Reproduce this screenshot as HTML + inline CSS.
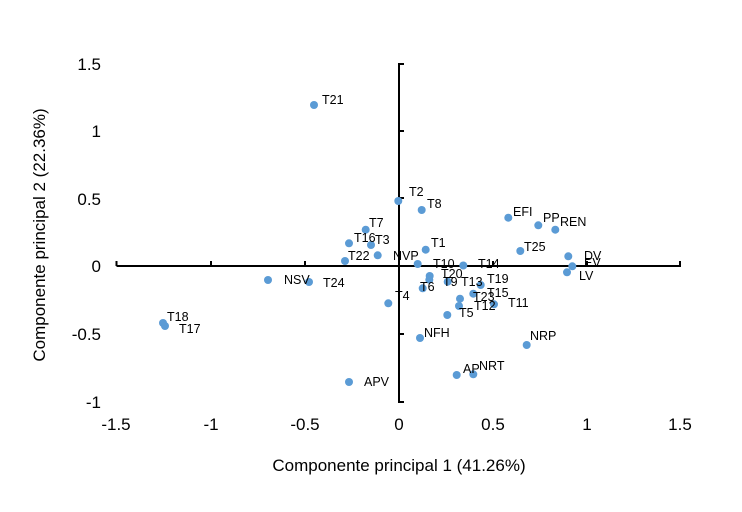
<!DOCTYPE html>
<html><head><meta charset="utf-8"><style>
html,body{margin:0;padding:0;background:#fff;}
svg{display:block;font-family:"Liberation Sans",Arial,sans-serif;}
.t{font-size:17px;fill:#000;}
.l{font-size:12.5px;fill:#000;dominant-baseline:central;}
</style></head><body>
<svg width="742" height="512" viewBox="0 0 742 512">
<rect width="742" height="512" fill="#fff"/>
<g stroke="#000" stroke-width="2" fill="none">
<line x1="116.5" y1="266" x2="681" y2="266"/>
<line x1="399" y1="63" x2="399" y2="403"/>
<line x1="116.5" y1="266" x2="116.5" y2="261"/>
<line x1="211" y1="266" x2="211" y2="261"/>
<line x1="305" y1="266" x2="305" y2="261"/>
<line x1="493" y1="266" x2="493" y2="261"/>
<line x1="587" y1="266" x2="587" y2="261"/>
<line x1="680" y1="266" x2="680" y2="261"/>
<line x1="399" y1="64" x2="404" y2="64"/>
<line x1="399" y1="131" x2="404" y2="131"/>
<line x1="399" y1="198" x2="404" y2="198"/>
<line x1="399" y1="334" x2="404" y2="334"/>
<line x1="399" y1="402" x2="404" y2="402"/>
</g>
<g class="t" text-anchor="middle">
<text x="116" y="430">-1.5</text>
<text x="211" y="430">-1</text>
<text x="305" y="430">-0.5</text>
<text x="399" y="430">0</text>
<text x="493" y="430">0.5</text>
<text x="587" y="430">1</text>
<text x="680" y="430">1.5</text>
</g>
<g class="t" text-anchor="end">
<text x="101" y="70">1.5</text>
<text x="101" y="137">1</text>
<text x="101" y="205">0.5</text>
<text x="101" y="272">0</text>
<text x="101" y="340">-0.5</text>
<text x="101" y="408">-1</text>
</g>
<text class="t" x="399" y="471" text-anchor="middle">Componente principal 1 (41.26%)</text>
<text class="t" x="45" y="235" text-anchor="middle" transform="rotate(-90 45 235)">Componente principal 2 (22.36%)</text>
<g fill="#5B9BD5">
<circle cx="314" cy="105" r="4"/><circle cx="163" cy="323" r="4"/><circle cx="165" cy="326" r="4"/>
<circle cx="268" cy="280" r="4"/><circle cx="309" cy="282" r="4"/><circle cx="349" cy="382" r="4"/>
<circle cx="398.3" cy="201" r="4"/><circle cx="421.7" cy="210" r="4"/><circle cx="365.7" cy="229.7" r="4"/>
<circle cx="349" cy="243.3" r="4"/><circle cx="371" cy="245" r="4"/><circle cx="345" cy="261" r="4"/>
<circle cx="377.7" cy="255.3" r="4"/><circle cx="425.7" cy="249.7" r="4"/><circle cx="417.7" cy="264" r="4"/>
<circle cx="463.3" cy="265.5" r="4"/><circle cx="508.3" cy="217.7" r="4"/><circle cx="538.3" cy="225.3" r="4"/>
<circle cx="555.3" cy="229.7" r="4"/><circle cx="520.3" cy="251" r="4"/><circle cx="568.3" cy="256.3" r="4"/>
<circle cx="572.3" cy="266.3" r="4"/><circle cx="567" cy="272.3" r="4"/><circle cx="429.7" cy="276" r="4"/>
<circle cx="429.3" cy="279.7" r="4"/><circle cx="422.7" cy="288.3" r="4"/><circle cx="447.7" cy="281.7" r="4"/>
<circle cx="480.7" cy="285" r="4"/><circle cx="473.3" cy="293.7" r="4"/><circle cx="460" cy="298.7" r="4"/>
<circle cx="459" cy="306" r="4"/><circle cx="494" cy="304.3" r="4"/><circle cx="447.3" cy="315" r="4"/>
<circle cx="388.3" cy="303.3" r="4"/><circle cx="420" cy="338" r="4"/><circle cx="526.7" cy="345" r="4"/>
<circle cx="456.7" cy="375" r="4"/><circle cx="473.3" cy="374.3" r="4"/>
</g>
<g class="l">
<text x="322" y="100">T21</text><text x="167" y="317">T18</text><text x="179" y="329">T17</text>
<text x="284" y="280">NSV</text><text x="323" y="283">T24</text><text x="364" y="382">APV</text>
<text x="409" y="192">T2</text><text x="427" y="204">T8</text><text x="369" y="223">T7</text>
<text x="354" y="238">T16</text><text x="375" y="240">T3</text><text x="348" y="256">T22</text>
<text x="393" y="256">NVP</text><text x="431" y="243">T1</text><text x="433" y="264">T10</text>
<text x="478" y="264">T14</text><text x="513" y="212">EFI</text><text x="543" y="218">PP</text>
<text x="560" y="222">REN</text><text x="524" y="247">T25</text><text x="584" y="256">DV</text>
<text x="584" y="263">EV</text><text x="579" y="276">LV</text><text x="441" y="274">T20</text>
<text x="443" y="282">T9</text><text x="461" y="282">T13</text><text x="487" y="279">T19</text>
<text x="420" y="287">T6</text><text x="487" y="293">T15</text><text x="473" y="297">T23</text>
<text x="474" y="306">T12</text><text x="508" y="303">T11</text><text x="459" y="313">T5</text>
<text x="395" y="296">T4</text><text x="424" y="333">NFH</text><text x="530" y="336">NRP</text>
<text x="463" y="369">AP</text><text x="479" y="366">NRT</text>
</g>
</svg>
</body></html>
